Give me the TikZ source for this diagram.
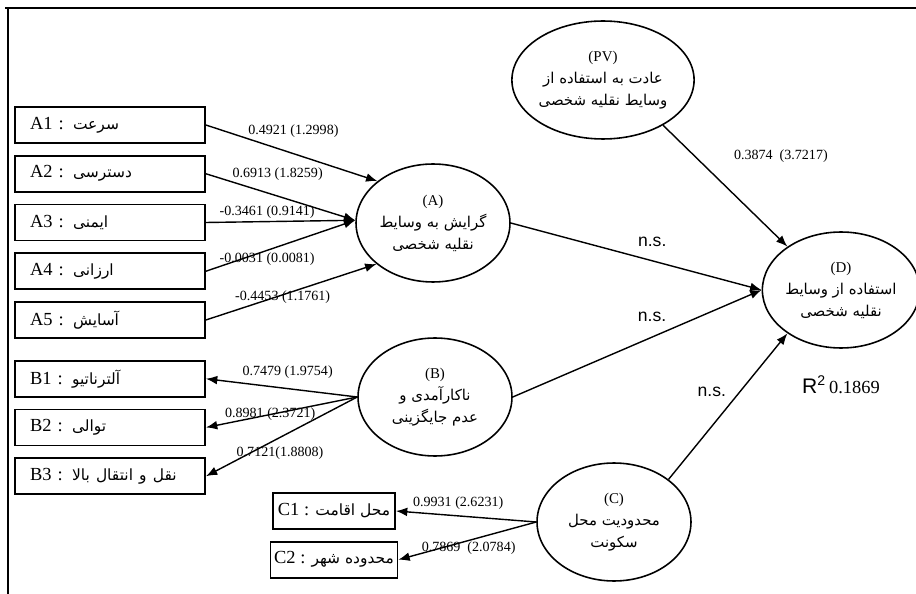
\documentclass[tikz,border=0pt]{standalone}
\usepackage{fontspec}
\setmainfont{Liberation Serif}
\newfontfamily\fa[Script=Arabic]{DejaVu Sans}
\newfontfamily\nsfont{Liberation Sans}
\TeXXeTstate=1
\usetikzlibrary{arrows.meta,positioning,shapes.geometric}

\newcommand{\fatxt}[1]{{\fa\beginR #1\endR}}
\newcommand{\faitem}[1]{{\fa\fontsize{8.8}{10}\selectfont\beginR #1\endR}}

\tikzset{
  item/.style={draw, line width=1pt, minimum height=0.72cm, text width=3.2cm,
    inner xsep=0.3cm, align=left, font=\fontsize{10.5}{12}\selectfont},
  citem/.style={draw, line width=1pt, minimum height=0.72cm, minimum width=2.44cm,
    inner xsep=2pt, font=\fontsize{10.5}{12}\selectfont},
  latent/.style={ellipse, draw, line width=0.9pt, minimum width=3.08cm,
    minimum height=2.36cm, inner sep=0pt, align=center,
    font=\fontsize{8.5}{12.5}\selectfont},
  link/.style={-{Latex[length=6.5pt,width=5pt]}, line width=0.8pt},
  coef/.style={font=\fontsize{8}{9}\selectfont, inner sep=1pt},
  ns/.style={font=\nsfont\fontsize{10}{12}\selectfont}
}

\begin{document}
\begin{tikzpicture}[x=0.02cm, y=-0.02cm, node distance=0.22cm]
  \useasboundingbox (0,0) rectangle (916,594);

  % frame
  \draw[line width=1.4pt] (5,8) -- (916,8);
  \draw[line width=1.4pt] (8,8) -- (8,594);

  % indicators
  \node[item] (A1) at (110,125) {A1 : \faitem{سرعت}};
  \node[item, below=of A1] (A2) {A2 : \faitem{دسترسی}};
  \node[item, below=of A2] (A3) {A3 : \faitem{ایمنی}};
  \node[item, below=of A3] (A4) {A4 : \faitem{ارزانی}};
  \node[item, below=of A4] (A5) {A5 : \faitem{آسایش}};

  \node[item, below=0.42cm of A5] (B1) {B1 : \faitem{آلترناتیو}};
  \node[item, below=of B1] (B2) {B2 : \faitem{توالی}};
  \node[item, below=of B2] (B3) {B3 : \faitem{نقل و انتقال بالا}};

  \node[citem] (C1) at (334,511) {C1 : \faitem{محل اقامت}};
  \node[citem, below=of C1] (C2) {C2 : \faitem{محدوده شهر}};

  % constructs
  \node[latent] (A) at (433,223) {(A)\\ \fatxt{گرایش به وسایط}\\ \fatxt{نقلیه شخصی}};
  \node[latent] (B) at (435,397) {(B)\\ \fatxt{ناکارآمدی و}\\ \fatxt{عدم جایگزینی}};
  \node[latent] (C) at (614,522) {(C)\\ \fatxt{محدودیت محل}\\ \fatxt{سکونت}};
  \node[latent] (PV) at (603,80) {(PV)\\ \fatxt{عادت به استفاده از}\\ \fatxt{وسایط نقلیه شخصی}};
  \node[latent, minimum width=2.96cm, minimum height=2.32cm] (D) at (841,290)
    {(D)\\ \fatxt{استفاده از وسایط}\\ \fatxt{نقلیه شخصی}};
  \node[below=0.42cm of D, font=\fontsize{10.5}{12}\selectfont] (R2)
    {{\nsfont\fontsize{12}{14}\selectfont R\textsuperscript{2}}\,0.1869};

  % loadings
  \draw[link] (A1.east) -- node[coef, pos=.51, yshift=.45cm] {0.4921 (1.2998)} (A.143);
  \draw[link] (A2.east) -- node[coef, pos=.48, yshift=.44cm] {0.6913 (1.8259)} (A.178);
  \draw[link] (A3.east) -- node[coef, pos=.41, yshift=.18cm] {-0.3461 (0.9141)} (A.178);
  \draw[link] (A4.east) -- node[coef, pos=.41, yshift=-.18cm] {-0.0031 (0.0081)} (A.178);
  \draw[link] (A5.east) -- node[coef, pos=.45, yshift=-.05cm] {-0.4453 (1.1761)} (A.216);

  \draw[link] (B.west) -- node[coef, pos=.46, yshift=.33cm] {0.7479 (1.9754)} (B1.east);
  \draw[link] (B.west) -- node[coef, pos=.575] {0.8981 (2.3721)} (B2.east);
  \draw[link] (B.west) -- node[coef, pos=.51, yshift=-.32cm] {0.7121(1.8808)} (B3.east);

  \draw[link] (C.west) -- node[coef, pos=.556, yshift=.26cm] {0.9931 (2.6231)} (C1.east);
  \draw[link] (C.west) -- node[coef, pos=.49, yshift=-.16cm] {0.7869~~(2.0784)} (C2.east);

  % paths to D
  \draw[link] (PV.-37) -- node[coef, pos=.256, xshift=1.72cm] {0.3874~~(3.7217)} (D.141);
  \draw[link] (A.east) -- node[ns, pos=.564, yshift=.38cm] {n.s.} (D.west);
  \draw[link] (B.east) -- node[ns, pos=.56, yshift=.4cm] {n.s.} (D.west);
  \draw[link] (C.38) -- node[ns, pos=.6, xshift=-.56cm] {n.s.} (D.219);
\end{tikzpicture}
\end{document}
